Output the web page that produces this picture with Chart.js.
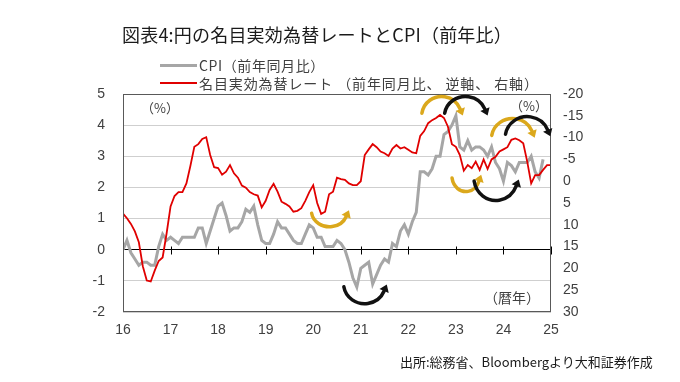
<!DOCTYPE html>
<html>
<head>
<meta charset="utf-8">
<script src="https://cdn.jsdelivr.net/npm/chart.js@4.4.1/dist/chart.umd.min.js"></script>
<style>
  body { margin: 0; background: #fff; }
  #wrap { position: relative; width: 680px; height: 382px; font-family: "Noto Sans CJK JP", "Liberation Sans", sans-serif; color: #404040; }
  #c { position: absolute; left: 0; top: 0; }
  .t { position: absolute; white-space: nowrap; line-height: 1; }
  .key { position: absolute; height: 0; }
</style>
</head>
<body>
<div id="wrap">
  <canvas id="c" width="680" height="382"></canvas>
  <div class="t" style="left:122px;top:25px;font-size:18px;letter-spacing:0.2px;color:#1a1a1a">図表4:円の名目実効為替レートとCPI（前年比）</div>
  <div class="key" style="left:160px;top:64px;width:37px;border-top:3px solid #a6a6a6"></div>
  <div class="t" style="left:199px;top:58px;font-size:14px;letter-spacing:0.6px">CPI（前年同月比）</div>
  <div class="key" style="left:160px;top:82px;width:37px;border-top:2px solid #e00000"></div>
  <div class="t" style="left:199px;top:76px;font-size:14px;letter-spacing:0.9px">名目実効為替レート （前年同月比、 逆軸、 右軸）</div>
  <div class="t" style="left:141px;top:101px;font-size:13px">（%）</div>
  <div class="t" style="left:510px;top:99px;font-size:13px">（%）</div>
  <div class="t" style="left:484px;top:290px;font-size:14px">（暦年）</div>
  <div class="t" style="left:400px;top:355px;font-size:13px;color:#1a1a1a">出所:総務省、Bloombergより大和証券作成</div>
</div>
<script>
// monthly series, first point = Jan 2016
var startYear = 2016;

// CPI, % y/y (left axis), Jan 2016 .. Nov 2024
var cpiYoY = [
  0.0, 0.3, -0.1, -0.3, -0.5, -0.4, -0.4, -0.5, -0.5, 0.1, 0.5, 0.3,
  0.4, 0.3, 0.2, 0.4, 0.4, 0.4, 0.4, 0.7, 0.7, 0.2, 0.6, 1.0,
  1.4, 1.5, 1.1, 0.6, 0.7, 0.7, 0.9, 1.3, 1.2, 1.4, 0.8, 0.3,
  0.2, 0.2, 0.5, 0.9, 0.7, 0.7, 0.5, 0.3, 0.2, 0.2, 0.5, 0.8,
  0.7, 0.4, 0.4, 0.1, 0.1, 0.1, 0.3, 0.2, 0.0, -0.4, -0.9, -1.2,
  -0.6, -0.5, -0.4, -1.1, -0.8, -0.5, -0.3, -0.4, 0.2, 0.1, 0.6, 0.8,
  0.5, 0.9, 1.2, 2.5, 2.5, 2.4, 2.6, 3.0, 3.0, 3.7, 3.8, 4.0,
  4.3, 3.3, 3.2, 3.5, 3.2, 3.3, 3.3, 3.2, 3.0, 3.3, 2.8, 2.6,
  2.2, 2.8, 2.7, 2.5, 2.8, 2.8, 2.8, 3.0, 2.5, 2.3, 2.9
];

// nominal effective exchange rate, % y/y (right axis, reversed), Jan 2016 .. Jan 2025
var neerYoY = [
  7.4, 8.5, 9.8, 11.5, 14.0, 19.5, 22.8, 23.0, 20.5, 18.3, 17.5, 12.0,
  5.8, 3.4, 2.5, 2.5, 0.5, -3.5, -7.9, -8.5, -9.7, -10.1, -6.0, -3.2,
  -3.0, -1.5, -2.2, -3.7, -1.8, -0.8, 1.0, 1.5, 2.5, 3.0, 3.3, 6.0,
  4.5, 2.0, 0.6, 2.4, 4.7, 5.2, 5.8, 7.0, 6.8, 6.2, 4.5, 2.5,
  0.9, 5.0, 7.5, 7.0, 3.0, 2.4, -0.8, -0.5, -0.3, 0.5, 0.9, 0.9,
  0.0, -6.0, -7.3, -8.5, -7.8, -6.8, -6.4, -5.8, -7.5, -8.3, -7.5, -7.8,
  -7.2, -6.6, -6.4, -10.4, -11.5, -13.3, -14.0, -14.5, -15.2, -14.5, -12.5, -8.5,
  -7.9, -6.0, -2.4, -3.7, -3.0, -4.5, -2.6, -5.0, -2.8, -5.0, -5.6, -6.8,
  -7.3, -7.8, -9.5, -9.8, -9.4, -8.7, -4.5, 0.5, -1.4, -1.4, -2.6, -3.7,
  -3.7
];

var yearLabels = ['16', '17', '18', '19', '20', '21', '22', '23', '24', '25'];

// turning-point arrows, placed in (year, left-axis value)
var turnArrows = [
  { year: 2020.34, val: 1.25, rx: 18, ry: 16, shape: 'smile', color: '#dba81c' },
  { year: 2021.08, val: -1.09, rx: 21, ry: 20, shape: 'smile', color: '#111' },
  { year: 2022.70, val: 4.28, rx: 20, ry: 20, shape: 'frown', color: '#dba81c' },
  { year: 2023.20, val: 4.28, rx: 21, ry: 20, shape: 'frown', color: '#111' },
  { year: 2023.21, val: 2.38, rx: 14, ry: 16, shape: 'smile', color: '#dba81c' },
  { year: 2023.84, val: 2.32, rx: 22, ry: 23, shape: 'smile', color: '#111' },
  { year: 2024.19, val: 3.57, rx: 21, ry: 20, shape: 'frown', color: '#dba81c' },
  { year: 2024.50, val: 3.60, rx: 22, ry: 21, shape: 'frown', color: '#111' }
];

function monthly(vals) {
  return vals.map(function (v, i) { return { x: startYear + i / 12, y: v }; });
}

var decor = {
  id: 'decor',
  beforeDatasetsDraw: function (chart) {
    var ctx = chart.ctx, x = chart.scales.x, y = chart.scales.y;
    var y0 = Math.round(y.getPixelForValue(0)) + 0.5;
    ctx.save();
    ctx.strokeStyle = '#000';
    ctx.lineWidth = 1;
    for (var yr = startYear + 1; yr <= startYear + yearLabels.length - 1; yr++) {
      var px = Math.round(x.getPixelForValue(yr)) + 0.5;
      ctx.beginPath();
      ctx.moveTo(px, y0 - 4);
      ctx.lineTo(px, y0 + 4);
      ctx.stroke();
    }
    ctx.restore();
  },
  afterDatasetsDraw: function (chart) {
    var ctx = chart.ctx, a = chart.chartArea, x = chart.scales.x, y = chart.scales.y;
    ctx.save();
    ctx.strokeStyle = '#595959';
    ctx.lineWidth = 1;
    ctx.strokeRect(a.left + 0.5, a.top + 0.5, a.right - a.left - 1, a.bottom - a.top - 1);

    turnArrows.forEach(function (m) {
      var cx = x.getPixelForValue(m.year), cy = y.getPixelForValue(m.val);
      var t0, t1, anti, dir;
      if (m.shape === 'frown') { t0 = Math.PI * 1.05; t1 = Math.PI * 1.88; anti = false; dir = 1; }
      else { t0 = Math.PI * 0.95; t1 = Math.PI * 0.12; anti = true; dir = -1; }
      ctx.strokeStyle = m.color;
      ctx.fillStyle = m.color;
      ctx.lineWidth = 3.5;
      ctx.lineCap = 'round';
      ctx.beginPath();
      ctx.ellipse(cx, cy, m.rx, m.ry, 0, t0, t1, anti);
      ctx.stroke();
      // arrow head along the tangent at the end
      var ex = cx + m.rx * Math.cos(t1), ey = cy + m.ry * Math.sin(t1);
      var tx = -m.rx * Math.sin(t1) * dir, ty = m.ry * Math.cos(t1) * dir;
      var len = Math.sqrt(tx * tx + ty * ty);
      tx /= len; ty /= len;
      var nx = -ty, ny = tx;
      ctx.beginPath();
      ctx.moveTo(ex + tx * 7, ey + ty * 7);
      ctx.lineTo(ex + nx * 5, ey + ny * 5);
      ctx.lineTo(ex - nx * 5, ey - ny * 5);
      ctx.closePath();
      ctx.fill();
    });
    ctx.restore();
  }
};

var tickFont = { family: '"Liberation Sans", Arial, sans-serif', size: 14 };

new Chart(document.getElementById('c'), {
  type: 'line',
  data: {
    datasets: [
      {
        label: '名目実効為替レート（前年同月比、逆軸、右軸）',
        data: monthly(neerYoY),
        yAxisID: 'y2',
        borderColor: '#e00000',
        borderWidth: 1.8,
        pointRadius: 0,
        tension: 0,
        order: 0
      },
      {
        label: 'CPI（前年同月比）',
        data: monthly(cpiYoY),
        yAxisID: 'y',
        borderColor: '#a6a6a6',
        borderWidth: 3,
        pointRadius: 0,
        tension: 0,
        order: 1
      }
    ]
  },
  options: {
    responsive: false,
    animation: false,
    layout: { padding: { top: 94, left: 0, right: 0, bottom: 0 } },
    plugins: { legend: { display: false }, tooltip: { enabled: false } },
    scales: {
      x: {
        type: 'linear',
        min: startYear,
        max: startYear + yearLabels.length - 1,
        grid: { display: false, drawTicks: false },
        border: { display: false },
        afterFit: function (s) { s.height = 70; },
        ticks: {
          stepSize: 1,
          padding: 10,
          color: '#404040',
          font: tickFont,
          callback: function (v) { return yearLabels[Math.round(v - startYear)]; }
        }
      },
      y: {
        position: 'left',
        min: -2,
        max: 5,
        grid: {
          drawTicks: false,
          color: function (c) { return c.tick && c.tick.value === 0 ? '#000' : '#cfcfcf'; }
        },
        border: { display: false },
        afterFit: function (s) { s.width = 123; },
        ticks: { stepSize: 1, padding: 18, color: '#404040', font: tickFont }
      },
      y2: {
        position: 'right',
        min: -20,
        max: 30,
        reverse: true,
        grid: { display: false, drawTicks: false },
        border: { display: false },
        afterFit: function (s) { s.width = 129; },
        ticks: { stepSize: 5, padding: 12, color: '#404040', font: tickFont }
      }
    }
  },
  plugins: [decor]
});
</script>
</body>
</html>
